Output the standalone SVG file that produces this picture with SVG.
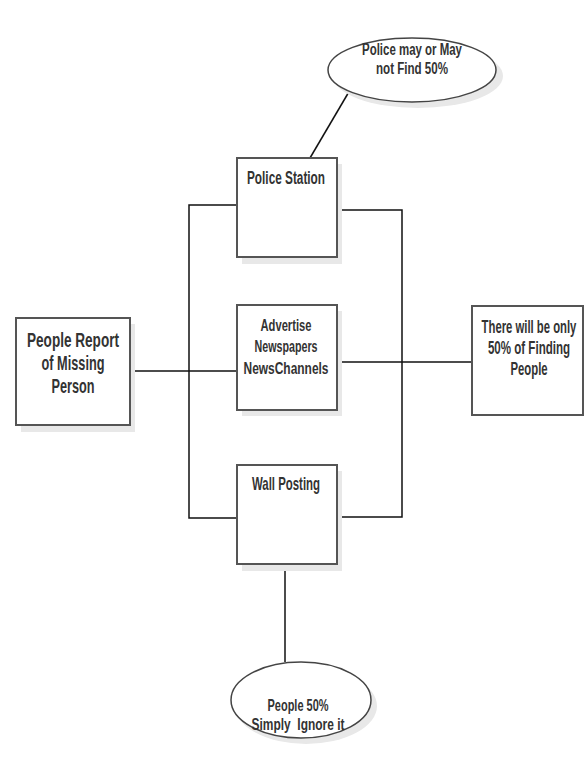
<svg xmlns="http://www.w3.org/2000/svg" width="585" height="758" viewBox="0 0 585 758">
<style>
.box{fill:#fff;stroke:#555;stroke-width:2}
.sh{fill:#e8e8e8}
.ell{fill:#fff;stroke:#444;stroke-width:1.5}
.ln{fill:none;stroke:#111;stroke-width:1.5}
text{font-family:"Liberation Sans",Arial,sans-serif;font-weight:bold;fill:#333;text-anchor:middle}
.t16{font-size:16px}
.t17{font-size:17px}
.t18{font-size:18px}
.t19{font-size:19px}
.t21{font-size:21px}
</style>
<rect width="585" height="758" fill="#fff"/>
<g id="connectors">
<line class="ln" x1="350" y1="90" x2="310" y2="158"/>
<polyline class="ln" points="237,205 189,205 189,518 237,518"/>
<polyline class="ln" points="337,210 402,210 402,517 337,517"/>
<line class="ln" x1="130" y1="371" x2="237" y2="371"/>
<line class="ln" x1="337" y1="362" x2="472" y2="362"/>
<line class="ln" x1="285" y1="564" x2="285" y2="662"/>
</g>
<g id="police-ellipse">
<ellipse class="sh" cx="418" cy="76" rx="85" ry="32"/>
<ellipse class="ell" cx="412" cy="70" rx="84" ry="32"/>
<text class="t16" x="412" y="55" textLength="100" lengthAdjust="spacingAndGlyphs">Police may or May</text>
<text class="t16" x="412" y="74" textLength="72" lengthAdjust="spacingAndGlyphs">not Find 50%</text>
</g>
<g id="police-station">
<rect class="sh" x="242" y="164" width="100" height="100"/>
<rect class="box" x="237" y="158" width="100" height="99"/>
<text class="t18" x="286" y="184" textLength="78" lengthAdjust="spacingAndGlyphs">Police Station</text>
</g>
<g id="missing-person">
<rect class="sh" x="21" y="324" width="114" height="108"/>
<rect class="box" x="16" y="318" width="114" height="107"/>
<text class="t21" x="73" y="347" textLength="92" lengthAdjust="spacingAndGlyphs">People Report</text>
<text class="t21" x="73" y="370" textLength="63" lengthAdjust="spacingAndGlyphs">of Missing</text>
<text class="t21" x="73" y="393" textLength="43" lengthAdjust="spacingAndGlyphs">Person</text>
</g>
<g id="advertise">
<rect class="sh" x="242" y="311" width="100" height="105"/>
<rect class="box" x="237" y="305" width="100" height="105"/>
<text class="t17" x="286" y="331" textLength="51" lengthAdjust="spacingAndGlyphs">Advertise</text>
<text class="t17" x="286" y="352" textLength="63" lengthAdjust="spacingAndGlyphs">Newspapers</text>
<text class="t17" x="286" y="374" textLength="85" lengthAdjust="spacingAndGlyphs">NewsChannels</text>
</g>
<g id="result">
<rect class="box" x="472" y="306" width="111" height="109"/>
<g transform="translate(529,0) scale(0.6,1)">
<text class="t19" x="0" y="333" textLength="158" lengthAdjust="spacingAndGlyphs">There will be only</text>
<text class="t19" x="0" y="354" textLength="137" lengthAdjust="spacingAndGlyphs">50% of Finding</text>
<text class="t19" x="0" y="375" textLength="62" lengthAdjust="spacingAndGlyphs">People</text>
</g>
</g>
<g id="wall-posting">
<rect class="sh" x="242" y="471" width="100" height="100"/>
<rect class="box" x="237" y="465" width="100" height="99"/>
<text class="t19" x="286" y="490" textLength="68" lengthAdjust="spacingAndGlyphs">Wall Posting</text>
</g>
<g id="ignore-ellipse">
<ellipse class="sh" cx="306" cy="706" rx="71" ry="38"/>
<ellipse class="ell" cx="301" cy="700" rx="70" ry="38"/>
<text class="t17" x="298" y="711" textLength="61" lengthAdjust="spacingAndGlyphs">People 50%</text>
<text class="t17" x="298" y="730" textLength="93" lengthAdjust="spacingAndGlyphs" style="white-space:pre">Simply  Ignore it</text>
</g>
</svg>
